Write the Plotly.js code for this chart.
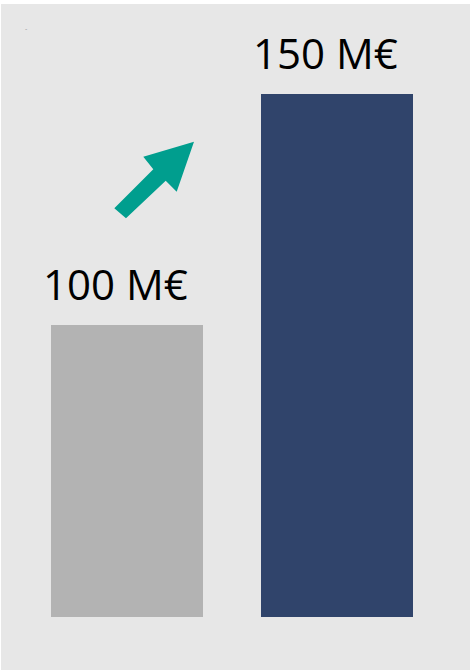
<!DOCTYPE html>
<html>
<head>
<meta charset="utf-8">
<script src="https://cdn.plot.ly/plotly-3.0.1.min.js"></script>
<style>
  html, body { margin: 0; padding: 0; background: #ffffff; }
  #chart { position: absolute; left: 1px; top: 4px; width: 469px; height: 666px; }
</style>
</head>
<body>
<div id="chart"></div>
<script>
// ---- data ----
const categories = ['Avant', 'Après'];
const values = [100, 150];
const valueLabels = ['100 M€', '150 M€'];
const barColors = ['#b3b3b3', '#30446b'];

// ---- layout geometry ----
const W = 469, H = 666;
const M = { l: 0, r: 0, t: 16, b: 53 };
const plotW = W - M.l - M.r, plotH = H - M.t - M.b;
// page pixel -> paper fraction (div offset 1,4)
function px(x, y) {
  const fx = (x - 1 - M.l) / plotW;
  const fy = 1 - (y - 4 - M.t) / plotH;
  return fx.toFixed(4) + ',' + fy.toFixed(4);
}
const arrowPts = [
  [194, 141.7], [176.7, 191.7], [165.7, 180.7], [126, 218.3],
  [114.3, 208.3], [153.3, 169.3], [143.3, 156.7]
];
const arrowPath = 'M ' + arrowPts.map(p => px(p[0], p[1])).join(' L ') + ' Z';

const trace = {
  type: 'bar',
  x: categories,
  y: values,
  marker: { color: barColors, line: { width: 0 } },
  width: 0.724,
  hoverinfo: 'skip'
};

const annotations = categories.map((c, i) => ({
  x: c, y: values[i], xref: 'x', yref: 'y',
  text: valueLabels[i], showarrow: false,
  xanchor: 'center', yanchor: 'bottom',
  xshift: -12, yshift: 11,
  font: { family: 'Open Sans, Noto Sans, sans-serif', size: 42, color: '#000000' }
}));
annotations.push({
  xref: 'paper', yref: 'paper', x: (25.5 - 1) / plotW, y: 1 - (28 - 4 - M.t) / plotH,
  text: '-', showarrow: false, xanchor: 'center', yanchor: 'middle',
  font: { family: 'Open Sans, sans-serif', size: 7, color: '#9a9a9a' }
});

const layout = {
  width: W, height: H,
  margin: M,
  paper_bgcolor: '#e7e7e7',
  plot_bgcolor: '#e7e7e7',
  showlegend: false,
  bargap: 0,
  xaxis: { type: 'category', range: [-0.6, 1.6333], visible: false, fixedrange: true },
  yaxis: { range: [36.8, 166.0], visible: false, fixedrange: true },
  annotations: annotations,
  shapes: [{
    type: 'path', xref: 'paper', yref: 'paper', path: arrowPath,
    fillcolor: '#009e8e', line: { width: 0 }, layer: 'above'
  }]
};

Plotly.newPlot('chart', [trace], layout, { displayModeBar: false, staticPlot: true });
</script>
</body>
</html>
